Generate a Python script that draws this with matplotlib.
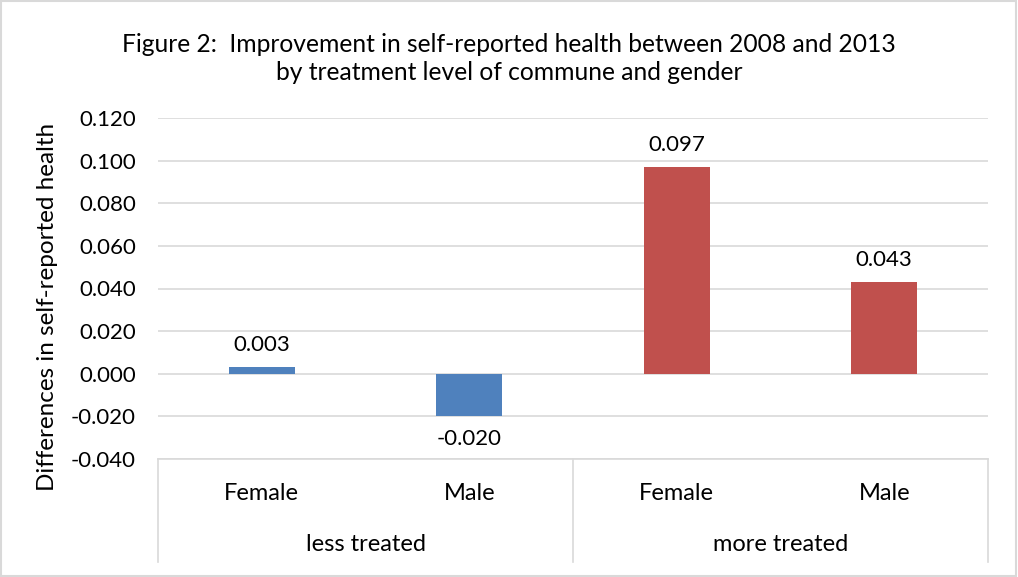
import matplotlib
matplotlib.use("Agg")
import matplotlib.pyplot as plt
import matplotlib.transforms as mtransforms
from matplotlib.patches import Rectangle

plt.rcParams['font.family'] = ['Lato', 'DejaVu Sans']

# data
genders = ["Female", "Male", "Female", "Male"]
groups = ["less treated", "more treated"]
values = [0.003, -0.020, 0.097, 0.043]
value_labels = ["0.003", "-0.020", "0.097", "0.043"]
yticks = [-0.04, -0.02, 0.0, 0.02, 0.04, 0.06, 0.08, 0.10, 0.12]

colors = ["#4F81BD", "#4F81BD", "#C0504D", "#C0504D"]
grid_c = "#D9D9D9"

fig = plt.figure(figsize=(10.18, 5.77), dpi=100)
ax = fig.add_axes([158 / 1018, 118 / 577, 830 / 1018, 341 / 577])

x = list(range(len(values)))
ax.bar(x, values, width=0.32, color=colors, zorder=3)
ax.set_xlim(-0.5, 3.5)
ax.set_ylim(-0.04, 0.12)
ax.set_yticks(yticks)
ax.set_yticklabels(["%.3f" % v for v in yticks], fontsize=16)
ax.tick_params(axis="y", length=0, pad=16)
ax.set_xticks([])
ax.grid(axis="y", color=grid_c, linewidth=1.2, zorder=0)
for s in ax.spines.values():
    s.set_visible(False)

# value labels
for xi, v, lab in zip(x, values, value_labels):
    if v >= 0:
        ax.annotate(lab, (xi, v), xytext=(0, 9), textcoords="offset points",
                    ha="center", va="bottom", fontsize=16)
    else:
        ax.annotate(lab, (xi, v), xytext=(0, -9), textcoords="offset points",
                    ha="center", va="top", fontsize=16)

# two-level category axis
tr = mtransforms.blended_transform_factory(ax.transData, ax.transAxes)
ax.plot([-0.5, 3.5], [0, 0], color=grid_c, lw=1.2, transform=tr, clip_on=False)
for xv in [-0.5, 1.5, 3.5]:
    ax.plot([xv, xv], [0, -0.302], color=grid_c, lw=1.2, transform=tr, clip_on=False)
for xi, g in zip(x, genders):
    ax.text(xi, -0.10, g, transform=tr, ha="center", va="center", fontsize=17)
for i, g in enumerate(groups):
    ax.text(2 * i + 0.5, -0.252, g, transform=tr, ha="center", va="center", fontsize=17)

ax.set_ylabel("Differences in self-reported health", fontsize=17.5)
ax.yaxis.set_label_coords(-0.121, 0.445)

fig.text(0.5, 1 - 45 / 577,
         "Figure 2:  Improvement in self-reported health between 2008 and 2013",
         ha="center", va="center", fontsize=17.7)
fig.text(0.5, 1 - 73 / 577, "by treatment level of commune and gender",
         ha="center", va="center", fontsize=17.7)

fig.patches.append(Rectangle((0.001, 0.002), 0.997, 0.996, transform=fig.transFigure,
                             fill=False, edgecolor=grid_c, lw=1.5))

fig.savefig("out.png", dpi=100)
